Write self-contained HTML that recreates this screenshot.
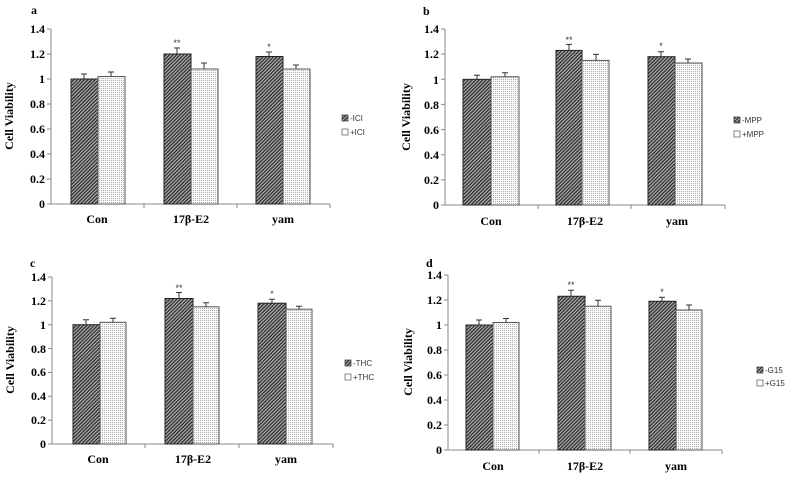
<!DOCTYPE html>
<html><head><meta charset="utf-8"><style>
body{margin:0;background:#fff}
svg{display:block}
.t{font-family:"Liberation Serif",serif;font-weight:bold;font-size:12px;fill:#000}
.l{font-family:"Liberation Sans",sans-serif;font-size:8px;fill:#333}
.ax{stroke:#888;stroke-width:1;fill:none}
.d{fill:url(#hatch);stroke:#222;stroke-width:1}
.p{fill:url(#dots);stroke:#555;stroke-width:1}
.e{stroke:#333;stroke-width:1;fill:none}
</style></head><body>
<svg width="795" height="482" viewBox="0 0 795 482" xmlns="http://www.w3.org/2000/svg">
<defs>
<pattern id="hatch" width="2.5" height="2.5" patternUnits="userSpaceOnUse" patternTransform="rotate(45)">
<rect width="2.5" height="2.5" fill="#d8d8d8"/><rect width="1.7" height="2.5" fill="#3a3a3a"/></pattern>
<pattern id="dots" width="2" height="2" patternUnits="userSpaceOnUse">
<rect width="2" height="2" fill="#fafafa"/><rect width="1" height="1" fill="#b0b0b0"/></pattern>
</defs>

<!-- Panel a -->
<g transform="translate(51,204)">
<text class="t" x="-20" y="-190">a</text>
<path class="ax" d="M0,-175V0H279M-4,0H0M-4,-25H0M-4,-50H0M-4,-75H0M-4,-100H0M-4,-125H0M-4,-150H0M-4,-175H0M93,0v4M186,0v4M279,0v4"/>
<g class="t" text-anchor="end"><text x="-6" y="4">0</text><text x="-6" y="-21">0.2</text><text x="-6" y="-46">0.4</text><text x="-6" y="-71">0.6</text><text x="-6" y="-96">0.8</text><text x="-6" y="-121">1</text><text x="-6" y="-146">1.2</text><text x="-6" y="-171">1.4</text></g>
<text class="t" transform="translate(-38,-88) rotate(-90)" text-anchor="middle">Cell Viability</text>
<g class="t" text-anchor="middle"><text x="46" y="19">Con</text><text x="140" y="19">17β-E2</text><text x="232" y="19">yam</text></g>
<rect class="d" x="20" y="-125" width="27" height="125"/><rect class="p" x="47" y="-127.5" width="27" height="127.5"/>
<rect class="d" x="113" y="-150" width="27" height="150"/><rect class="p" x="140" y="-135" width="27" height="135"/>
<rect class="d" x="205" y="-147.5" width="27" height="147.5"/><rect class="p" x="232" y="-135" width="27" height="135"/>
<path class="e" d="M33,-125v-5m-3,0h6M60,-127.5v-4.5m-3,0h6M126,-150v-6m-3,0h6M153,-135v-6m-3,0h6M218,-147.5v-4.5m-3,0h6M245,-135v-4m-3,0h6"/>
<g class="l" text-anchor="middle" style="font-size:9px"><text x="126" y="-158">**</text><text x="218" y="-154">*</text></g>
<rect x="291" y="-89" width="6" height="6" fill="url(#hatch)" stroke="#333" stroke-width=".7"/><text class="l" x="299" y="-83">-ICI</text>
<rect x="291" y="-75" width="6" height="6" fill="#fff" stroke="#555" stroke-width=".7"/><text class="l" x="299" y="-69">+ICI</text>
</g>

<!-- Panel b -->
<g transform="translate(445,205)">
<text class="t" x="-22" y="-190">b</text>
<path class="ax" d="M0,-176V0H280M-4,0H0M-4,-25.1H0M-4,-50.3H0M-4,-75.4H0M-4,-100.6H0M-4,-125.7H0M-4,-150.9H0M-4,-176H0M93,0v4M186,0v4M280,0v4"/>
<g class="t" text-anchor="end"><text x="-6" y="4">0</text><text x="-6" y="-21">0.2</text><text x="-6" y="-46">0.4</text><text x="-6" y="-71">0.6</text><text x="-6" y="-96">0.8</text><text x="-6" y="-121">1</text><text x="-6" y="-147">1.2</text><text x="-6" y="-172">1.4</text></g>
<text class="t" transform="translate(-35,-88) rotate(-90)" text-anchor="middle">Cell Viability</text>
<g class="t" text-anchor="middle"><text x="46" y="20">Con</text><text x="140" y="20">17β-E2</text><text x="232" y="20">yam</text></g>
<rect class="d" x="18" y="-125.7" width="28" height="125.7"/><rect class="p" x="46" y="-128.2" width="28" height="128.2"/>
<rect class="d" x="111" y="-154.6" width="26" height="154.6"/><rect class="p" x="137" y="-144.6" width="27" height="144.6"/>
<rect class="d" x="203" y="-148.3" width="27" height="148.3"/><rect class="p" x="230" y="-142" width="27" height="142"/>
<path class="e" d="M32,-125.7v-4m-3,0h6M60,-128.2v-4m-3,0h6M124,-154.6v-6m-3,0h6M151,-144.6v-6m-3,0h6M216,-148.3v-5m-3,0h6M243,-142v-4m-3,0h6"/>
<g class="l" text-anchor="middle" style="font-size:9px"><text x="124" y="-162">**</text><text x="216" y="-156">*</text></g>
<rect x="289" y="-88" width="6" height="6" fill="url(#hatch)" stroke="#333" stroke-width=".7"/><text class="l" x="297" y="-82">-MPP</text>
<rect x="289" y="-74" width="6" height="6" fill="#fff" stroke="#555" stroke-width=".7"/><text class="l" x="297" y="-68">+MPP</text>
</g>

<!-- Panel c -->
<g transform="translate(52,444)">
<text class="t" x="-22" y="-177">c</text>
<path class="ax" d="M0,-167V0H281M-4,0H0M-4,-23.9H0M-4,-47.7H0M-4,-71.6H0M-4,-95.4H0M-4,-119.3H0M-4,-143.1H0M-4,-167H0M93,0v4M187,0v4M281,0v4"/>
<g class="t" text-anchor="end"><text x="-6" y="4">0</text><text x="-6" y="-20">0.2</text><text x="-6" y="-44">0.4</text><text x="-6" y="-68">0.6</text><text x="-6" y="-91">0.8</text><text x="-6" y="-115">1</text><text x="-6" y="-139">1.2</text><text x="-6" y="-163">1.4</text></g>
<text class="t" transform="translate(-38,-84) rotate(-90)" text-anchor="middle">Cell Viability</text>
<g class="t" text-anchor="middle"><text x="46" y="19">Con</text><text x="141" y="19">17β-E2</text><text x="234" y="19">yam</text></g>
<rect class="d" x="21" y="-119.3" width="27" height="119.3"/><rect class="p" x="48" y="-121.7" width="26" height="121.7"/>
<rect class="d" x="113" y="-145.5" width="28" height="145.5"/><rect class="p" x="141" y="-137.2" width="26" height="137.2"/>
<rect class="d" x="206" y="-140.8" width="28" height="140.8"/><rect class="p" x="234" y="-134.8" width="26" height="134.8"/>
<path class="e" d="M34,-119.3v-5m-3,0h6M61,-121.7v-4m-3,0h6M127,-145.5v-6m-3,0h6M154,-137.2v-4m-3,0h6M220,-140.8v-4m-3,0h6M247,-134.8v-3m-3,0h6"/>
<g class="l" text-anchor="middle" style="font-size:9px"><text x="127" y="-153">**</text><text x="220" y="-147">*</text></g>
<rect x="293" y="-84" width="6" height="6" fill="url(#hatch)" stroke="#333" stroke-width=".7"/><text class="l" x="301" y="-78">-THC</text>
<rect x="293" y="-70" width="6" height="6" fill="#fff" stroke="#555" stroke-width=".7"/><text class="l" x="301" y="-64">+THC</text>
</g>

<!-- Panel d -->
<g transform="translate(448,450)">
<text class="t" x="-22" y="-183">d</text>
<path class="ax" d="M0,-175V0H274M-4,0H0M-4,-25H0M-4,-50H0M-4,-75H0M-4,-100H0M-4,-125H0M-4,-150H0M-4,-175H0M91,0v4M182,0v4M274,0v4"/>
<g class="t" text-anchor="end"><text x="-6" y="4">0</text><text x="-6" y="-21">0.2</text><text x="-6" y="-46">0.4</text><text x="-6" y="-71">0.6</text><text x="-6" y="-96">0.8</text><text x="-6" y="-121">1</text><text x="-6" y="-146">1.2</text><text x="-6" y="-171">1.4</text></g>
<text class="t" transform="translate(-36,-88) rotate(-90)" text-anchor="middle">Cell Viability</text>
<g class="t" text-anchor="middle"><text x="45" y="20">Con</text><text x="137" y="20">17β-E2</text><text x="228" y="20">yam</text></g>
<rect class="d" x="18" y="-125" width="27" height="125"/><rect class="p" x="45" y="-127.5" width="26" height="127.5"/>
<rect class="d" x="110" y="-153.75" width="27" height="153.75"/><rect class="p" x="137" y="-143.75" width="26" height="143.75"/>
<rect class="d" x="201" y="-148.75" width="27" height="148.75"/><rect class="p" x="228" y="-140" width="26" height="140"/>
<path class="e" d="M31,-125v-5m-3,0h6M58,-127.5v-4m-3,0h6M123,-153.75v-6m-3,0h6M150,-143.75v-6m-3,0h6M214,-148.75v-4m-3,0h6M241,-140v-5m-3,0h6"/>
<g class="l" text-anchor="middle" style="font-size:9px"><text x="123" y="-162">**</text><text x="214" y="-155">*</text></g>
<rect x="309" y="-83" width="6" height="6" fill="url(#hatch)" stroke="#333" stroke-width=".7"/><text class="l" x="317" y="-77">-G15</text>
<rect x="309" y="-70" width="6" height="6" fill="#fff" stroke="#555" stroke-width=".7"/><text class="l" x="317" y="-64">+G15</text>
</g>
</svg>
</body></html>
